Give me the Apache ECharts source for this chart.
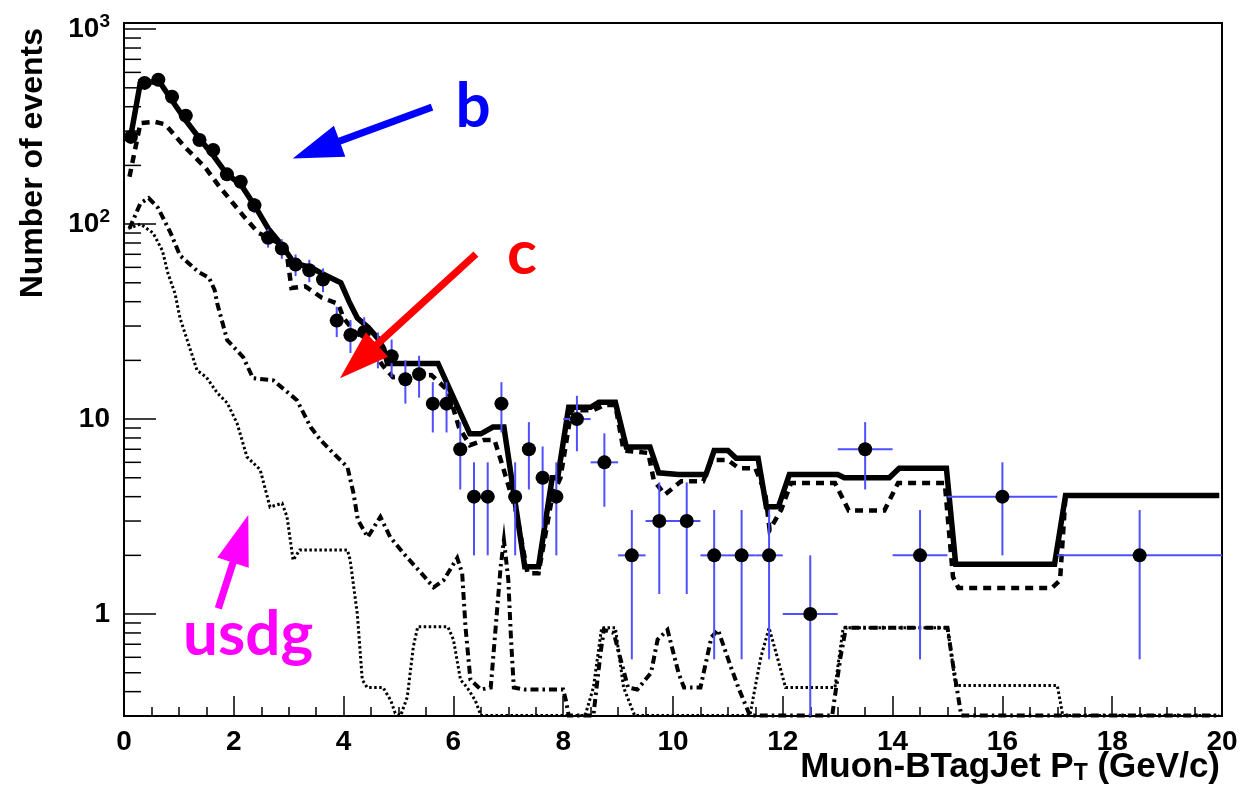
<!DOCTYPE html>
<html>
<head>
<meta charset="utf-8">
<script src="https://cdn.jsdelivr.net/npm/echarts@6/dist/echarts.min.js"></script>
<style>
  html, body { margin: 0; padding: 0; background: #fff; }
  #chart { width: 1244px; height: 791px; }
</style>
</head>
<body>
<div id="chart"></div>
<script>
// Bin edges of the measured muon-jet pT histogram (GeV/c)
const binEdges = [0, 0.25, 0.5, 0.75, 1, 1.25, 1.5, 1.75, 2, 2.25, 2.5, 2.75, 3, 3.25, 3.5, 3.75,
  4, 4.25, 4.5, 4.75, 5, 5.25, 5.5, 5.75, 6, 6.25, 6.5, 6.75, 7, 7.25, 7.5, 7.75,
  8, 8.5, 9, 9.5, 10, 10.5, 11, 11.5, 12, 13, 14, 15, 17, 20];
// Number of events in each bin
const dataCounts = [280, 530, 550, 450, 360, 270, 240, 180, 165, 125, 85, 75, 62, 58, 52, 32,
  27, 28, 23, 21, 16, 17, 12, 12, 7, 4, 4, 12, 4, 7, 5, 4,
  10, 6, 2, 3, 3, 2, 2, 2, 1, 7, 2, 4, 2];

// Simulation: total (b + c + usdg)
const totalX = [0.125, 0.3, 0.65, 0.875, 1.125, 1.375, 1.625, 1.875, 2.125, 2.375, 2.625, 2.875, 3.1, 3.4, 3.65,
  3.95, 4.1, 4.25, 4.45, 4.62, 4.73, 4.8, 5.72, 6.3, 6.5, 6.72, 6.92, 7.3, 7.55, 7.8, 7.9, 8.1, 8.5, 8.65, 8.95,
  9.15, 9.58, 9.74, 10.1, 10.6, 10.75, 11.0, 11.15, 11.55, 11.7, 11.92, 12.12, 13.0, 13.12, 13.94, 14.12, 14.98,
  15.15, 16.95, 17.15, 19.95];
const totalY = [285, 535, 535, 430, 340, 275, 225, 180, 160, 125, 95, 78, 63, 60, 55,
  50, 40, 33, 29.5, 26, 23, 19.3, 19.3, 8.4, 8.4, 9.1, 9.1, 1.75, 1.75, 5.0, 5.0, 11.5, 11.5, 12.2, 12.2,
  7.2, 7.2, 5.3, 5.2, 5.2, 6.9, 6.9, 6.3, 6.3, 3.55, 3.55, 5.2, 5.2, 5.0, 5.0, 5.6, 5.6,
  1.8, 1.8, 4.05, 4.05];

// Simulation: b component
const bX = [0.1, 0.3, 0.55, 0.75, 1.1, 1.48, 1.72, 1.9, 2.2, 2.45, 2.6, 2.95, 3.05, 3.3, 3.6, 3.9, 4.0, 4.2,
  4.45, 4.7, 4.9, 5.6, 5.9, 6.1, 6.3, 6.55, 6.75, 6.9, 7.15, 7.35, 7.55, 7.8, 7.95, 8.15, 8.55, 8.75, 8.95,
  9.1, 9.55, 9.65, 9.85, 10.15, 10.55, 10.7, 11.0, 11.2, 11.5, 11.68, 11.76, 11.97, 12.15, 12.95, 13.2, 13.85,
  14.1, 14.95, 15.1, 15.2, 16.9, 17.05, 17.15, 19.95];
const bY = [175, 330, 335, 325, 250, 195, 158, 137, 108, 90, 86, 76, 47, 48, 42, 39, 33, 28,
  25, 19, 16.4, 16.8, 14, 9.1, 7.35, 7.8, 7.8, 5.7, 3.3, 1.62, 1.62, 4.0, 5.0, 11.1, 11.1, 11.8, 11.8,
  6.9, 6.7, 4.86, 4.1, 4.8, 4.8, 6.16, 6.16, 5.6, 5.6, 4.17, 2.7, 3.42, 4.7, 4.7, 3.4, 3.4,
  4.7, 4.7, 1.55, 1.36, 1.36, 1.49, 4.05, 4.05];

// Simulation: c component
const cX = [0.1, 0.3, 0.45, 0.62, 0.85, 1.02, 1.35, 1.55, 1.65, 1.7, 1.88, 2.17, 2.35, 2.72, 3.15, 3.4, 3.58,
  3.81, 4.07, 4.18, 4.26, 4.44, 4.67, 4.85, 5.09, 5.4, 5.64, 5.82, 6.07, 6.16, 6.22, 6.31, 6.5, 6.68, 6.86,
  6.92, 7.0, 7.05, 7.1, 7.3, 8.0, 8.05, 8.1, 8.55, 8.68, 8.74, 8.92, 9.05, 9.18, 9.35, 9.6, 9.72, 9.9, 10.1,
  10.2, 10.5, 10.7, 10.82, 11.06, 11.19, 11.4, 12.9, 13.05, 13.15, 15.0, 15.1, 15.25, 19.95];
const cY = [95, 128, 136, 121, 90, 69, 57, 53, 46, 39, 25.4, 20.8, 16.2, 15.8, 12.5, 9.1, 7.8,
  6.7, 5.67, 4.17, 3.04, 2.48, 3.15, 2.48, 2.05, 1.64, 1.37, 1.49, 1.94, 1.62, 0.86, 0.46, 0.41, 0.42, 1.74,
  2.4, 1.5, 0.74, 0.42, 0.41, 0.41, 0.36, 0.302, 0.302, 0.63, 0.83, 0.8, 0.58, 0.42, 0.41, 0.5, 0.74, 0.83, 0.5,
  0.42, 0.42, 0.76, 0.83, 0.53, 0.42, 0.302, 0.302, 0.6, 0.85, 0.85, 0.55, 0.302, 0.302];

// Simulation: light-flavour (usdg) component
const usdgX = [0.08, 0.3, 0.53, 0.7, 0.8, 0.93, 1.02, 1.17, 1.33, 1.5, 1.7, 1.88, 2.06, 2.24, 2.48, 2.66, 2.88,
  2.97, 3.08, 3.2, 4.07, 4.12, 4.25, 4.34, 4.43, 4.72, 4.86, 4.94, 5.04, 5.16, 5.27, 5.35, 5.9, 6.0, 6.13,
  6.25, 6.4, 6.5, 8.4, 8.55, 8.7, 8.95, 9.1, 9.3, 11.4, 11.6, 11.75, 11.9, 12.05, 12.15, 12.95, 13.1, 15.0,
  15.15, 17.0, 17.1, 19.95];
const usdgY = [95, 100, 90, 73, 56, 44, 33, 24.5, 17.8, 16.4, 13.6, 12.1, 9.5, 6.4, 5.5, 3.54, 3.7,
  3.15, 1.89, 2.13, 2.13, 1.89, 1.0, 0.46, 0.42, 0.42, 0.36, 0.31, 0.302, 0.375, 0.68, 0.86, 0.86, 0.74, 0.46,
  0.42, 0.36, 0.302, 0.302, 0.42, 0.85, 0.85, 0.42, 0.302, 0.302, 0.6, 0.85, 0.6, 0.42, 0.42, 0.42, 0.85, 0.85,
  0.43, 0.43, 0.302, 0.302];

// Minor tick positions on the logarithmic axis
const yMinorTicks = [0.4, 0.5, 0.6, 0.7, 0.8, 0.9, 2, 3, 4, 5, 6, 7, 8, 9,
  20, 30, 40, 50, 60, 70, 80, 90, 200, 300, 400, 500, 600, 700, 800, 900];

// Flavour annotations: arrow tail, arrow tip and label centre in (pT, events)
const annotationText = ['b', 'c', 'usdg'];
const annotationColor = ['#0000ff', '#ff0000', '#ff00ff'];
const arrowTail = [[5.61, 398], [6.41, 70.2], [1.718, 1.07]];
const arrowTip = [[3.073, 217], [3.934, 16.2], [2.264, 3.22]];
const labelAt = [[6.36, 398], [7.25, 70.2], [2.26, 0.78]];

const Y_MIN = 0.3, Y_MAX = 1075;
const FONT = 'Liberation Sans, Arial, Helvetica, sans-serif';

const zip = (xs, ys) => xs.map((x, i) => [x, ys[i]]);

const points = dataCounts.map((v, i) => [(binEdges[i] + binEdges[i + 1]) / 2, v]);
const errorItems = dataCounts.map((v, i) => [
  (binEdges[i] + binEdges[i + 1]) / 2, v, binEdges[i], binEdges[i + 1], Math.sqrt(v)
]);

const chart = echarts.init(document.getElementById('chart'));

const mcLine = (name, xs, ys, width, dash) => ({
  name, type: 'line', data: zip(xs, ys), showSymbol: false, symbol: 'none',
  clip: true, z: 3, silent: true,
  lineStyle: { color: '#000', width, opacity: 1, type: dash || 'solid', cap: 'butt', join: 'miter' }
});

chart.setOption({
  animation: false,
  backgroundColor: '#ffffff',
  grid: { left: 124, right: 22, top: 23, bottom: 75, show: true, borderColor: '#000', borderWidth: 2, backgroundColor: 'transparent' },
  xAxis: {
    type: 'value', min: 0, max: 20, interval: 2,
    axisLine: { onZero: false, lineStyle: { color: '#000', width: 2 } },
    axisTick: { inside: true, length: 20, lineStyle: { color: '#000', width: 1.5 } },
    minorTick: { show: true, splitNumber: 4, length: 9, lineStyle: { color: '#000', width: 1.5 } },
    axisLabel: { color: '#000', fontSize: 28, fontWeight: 'bold', fontFamily: FONT, margin: 12 },
    splitLine: { show: false }
  },
  yAxis: {
    type: 'log', logBase: 10, min: Y_MIN, max: Y_MAX,
    axisLine: { onZero: false, lineStyle: { color: '#000', width: 2 } },
    axisTick: { inside: true, length: 32, lineStyle: { color: '#000', width: 1.5 } },
    axisLabel: {
      color: '#000', margin: 14, showMinLabel: false, showMaxLabel: false,
      formatter: v => {
        const e = Math.log10(v);
        if (Math.abs(e - Math.round(e)) > 1e-6) return '';
        const k = Math.round(e);
        if (k === 0) return '{n|1}';
        if (k === 1) return '{n|10}';
        return '{n|10}{s|' + k + '}';
      },
      rich: {
        n: { fontSize: 28, fontWeight: 'bold', fontFamily: FONT, color: '#000', lineHeight: 34 },
        s: { fontSize: 19, fontWeight: 'bold', fontFamily: FONT, color: '#000', lineHeight: 34, verticalAlign: 'top', padding: [0, 0, 16, 0] }
      }
    },
    splitLine: { show: false }
  },
  series: [
    {
      name: 'minorTicks', type: 'custom', silent: true, z: 6, clip: false,
      data: yMinorTicks.map(v => [0, v]),
      renderItem: (params, api) => {
        const p = api.coord([0, api.value(1)]);
        return { type: 'line', shape: { x1: p[0], y1: p[1], x2: p[0] + 17, y2: p[1] },
                 style: { stroke: '#000', lineWidth: 1.5 } };
      }
    },
    mcLine('usdg', usdgX, usdgY, 3, [2.5, 2.5]),
    mcLine('c', cX, cY, 4, [8, 4, 2.5, 4]),
    mcLine('b', bX, bY, 4.5, [8, 6]),
    mcLine('total', totalX, totalY, 5.5),
    {
      name: 'errors', type: 'custom', silent: true, z: 4, clip: true,
      data: errorItems,
      renderItem: (params, api) => {
        const x = api.value(0), v = api.value(1), lo = api.value(2), hi = api.value(3), err = api.value(4);
        const c = api.coord([x, v]);
        const top = api.coord([x, v + err]);
        const bot = api.coord([x, Math.max(v - err, Y_MIN)]);
        const l = api.coord([lo, v]);
        const r = api.coord([hi, v]);
        const style = { stroke: '#4f4fff', lineWidth: 2 };
        return { type: 'group', children: [
          { type: 'line', shape: { x1: c[0], y1: top[1], x2: c[0], y2: bot[1] }, style },
          { type: 'line', shape: { x1: l[0], y1: c[1], x2: r[0], y2: c[1] }, style }
        ] };
      }
    },
    {
      name: 'data', type: 'scatter', data: points, symbol: 'circle', symbolSize: 14, z: 5,
      itemStyle: { color: '#000', opacity: 1 }, silent: true
    }
  ]
});

// Flavour arrows and labels, placed in data coordinates
function arrowPolygon(tail, tip, headLen, headHalf, shaftHalf) {
  const dx = tip[0] - tail[0], dy = tip[1] - tail[1];
  const len = Math.hypot(dx, dy);
  const ux = dx / len, uy = dy / len, nx = -uy, ny = ux;
  const bx = tip[0] - ux * headLen, by = tip[1] - uy * headLen;
  return [
    [tail[0] + nx * shaftHalf, tail[1] + ny * shaftHalf],
    [bx + nx * shaftHalf, by + ny * shaftHalf],
    [bx + nx * headHalf, by + ny * headHalf],
    [tip[0], tip[1]],
    [bx - nx * headHalf, by - ny * headHalf],
    [bx - nx * shaftHalf, by - ny * shaftHalf],
    [tail[0] - nx * shaftHalf, tail[1] - ny * shaftHalf]
  ];
}
const toPx = p => chart.convertToPixel({ xAxisIndex: 0, yAxisIndex: 0 }, p);
const graphics = [];
annotationText.forEach((t, i) => {
  graphics.push({
    type: 'polygon', silent: true, z: 20,
    shape: { points: arrowPolygon(toPx(arrowTail[i]), toPx(arrowTip[i]), 50, 16.5, 3.6) },
    style: { fill: annotationColor[i] }
  });
  const lp = toPx(labelAt[i]);
  graphics.push({
    type: 'text', silent: true, z: 20, x: lp[0], y: lp[1],
    style: { text: t, fill: annotationColor[i], font: 'bold 62px Lato, "DejaVu Sans", sans-serif',
             textAlign: 'center', textVerticalAlign: 'middle' }
  });
});
// Axis titles
graphics.push({
  type: 'text', silent: true, right: 24, bottom: 6,
  style: {
    text: 'Muon-BTagJet P{sub|T} (GeV/c)', fill: '#000',
    font: 'bold 35px ' + FONT,
    rich: { sub: { fontSize: 23, fontWeight: 'bold', fontFamily: FONT, verticalAlign: 'bottom', padding: [12, 0, 0, 0] } }
  }
});
graphics.push({
  type: 'text', silent: true, x: 33, y: 28, rotation: Math.PI / 2,
  style: { text: 'Number of events', fill: '#000', font: 'bold 32px ' + FONT,
           textAlign: 'right', textVerticalAlign: 'middle' }
});
chart.setOption({ graphic: graphics });
</script>
</body>
</html>
